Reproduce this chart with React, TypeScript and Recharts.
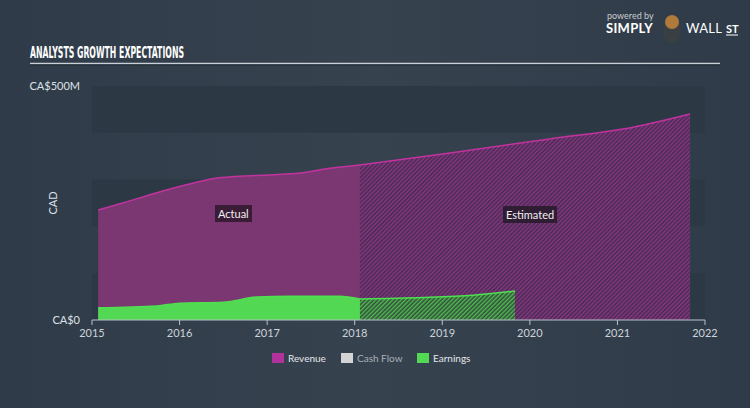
import { ComposedChart, Area, XAxis, YAxis, ReferenceArea } from 'recharts';

const revenueActualYears = [2015.07, 2015.35, 2015.74, 2016.1, 2016.38, 2016.88, 2017.38, 2017.64, 2018.06];
const revenueActual = [235, 250, 272, 290, 302, 309, 314, 322, 331];
const revenueEstYears = [2018.06, 2019.09, 2020.23, 2021.18, 2021.83];
const revenueEst = [331, 357, 387, 412, 440];
const earningsActualYears = [2015.07, 2015.74, 2016.0, 2016.5, 2016.88, 2017.26, 2017.83, 2018.06];
const earningsActual = [26, 30, 36, 38, 49, 51, 51, 45];
const earningsEstYears = [2018.06, 2018.78, 2019.35, 2019.83];
const earningsEst = [45, 48, 53, 62];

const xTicks = [2015, 2016, 2017, 2018, 2019, 2020, 2021, 2022];
const yTicks = [0, 500];
const bands = [[0, 100], [200, 300], [400, 500]];

const legendNames = ['Revenue', 'Cash Flow', 'Earnings'];
const legendStyle: Record<string, { swatch: string; text: string; width: number }> = {
  Revenue: { swatch: '#b0329a', text: '#e4e6ea', width: 69 },
  'Cash Flow': { swatch: '#d4d4d4', text: '#a9b0b8', width: 76 },
  Earnings: { swatch: '#52d852', text: '#e4e6ea', width: 60 },
};

type Row = { year: number; [k: string]: number | null };

function buildData(): Row[] {
  const map = new Map<number, Row>();
  const add = (years: number[], vals: number[], key: string) => {
    years.forEach((y, i) => {
      if (!map.has(y)) map.set(y, { year: y });
      map.get(y)![key] = vals[i];
    });
  };
  add(revenueActualYears, revenueActual, 'revA');
  add(revenueEstYears, revenueEst, 'revE');
  add(earningsActualYears, earningsActual, 'earnA');
  add(earningsEstYears, earningsEst, 'earnE');
  return [...map.values()].sort((a, b) => a.year - b.year);
}

const data = buildData();
const font = 'Lato, "Open Sans", sans-serif';

// rotated axis caption, centred on the plot's vertical middle
const CadLabel = ({ viewBox }: any) => {
  const cy = viewBox.y + viewBox.height / 2;
  return (
    <text
      x={52}
      y={cy}
      transform={`rotate(-90 52 ${cy})`}
      textAnchor="middle"
      dominantBaseline="central"
      fill="#dde1e6"
      fontSize={11}
      fontFamily={font}
    >
      CAD
    </text>
  );
};

export default function App() {
  return (
    <div
      style={{
        position: 'relative',
        width: 750,
        height: 408,
        background: 'linear-gradient(90deg, #2f3b48 0%, #36434f 50%, #2f3b48 100%)',
        fontFamily: font,
        overflow: 'hidden',
      }}
    >
      <style>{`body{margin:0}`}</style>

      {/* header */}
      <svg width={750} height={70} style={{ position: 'absolute', left: 0, top: 0 }}>
        <text
          x={30}
          y={58}
          fill="#ffffff"
          fontSize={16}
          fontWeight={700}
          fontFamily='"Liberation Sans Narrow", "DejaVu Sans Condensed", sans-serif'
          textLength={154}
          lengthAdjust="spacingAndGlyphs"
        >
          ANALYSTS GROWTH EXPECTATIONS
        </text>
        <line x1={30} x2={720} y1={63.5} y2={63.5} stroke="#c9d0d8" strokeWidth={1.5} />
        <line x1={30} x2={720} y1={65} y2={65} stroke="#1f2833" strokeWidth={1} />
        <text x={607} y={19} fill="#c8ccd0" fontSize={9}>powered by</text>
        <text x={606} y={33} fill="#ffffff" fontSize={13} fontWeight={700} letterSpacing={0.3}>SIMPLY</text>
        <ellipse cx={672} cy={31} rx={9} ry={12} fill="#3a3f44" />
        <circle cx={672} cy={22} r={7} fill="#b07a3a" />
        <text x={686} y={33} fill="#ffffff" fontSize={13} letterSpacing={0.3}>WALL</text>
        <text x={726} y={33} fill="#ffffff" fontSize={11} fontWeight={700}>ST</text>
        <line x1={726} x2={738} y1={35} y2={35} stroke="#ffffff" strokeWidth={1} />
      </svg>

      <div style={{ position: 'absolute', left: 0, top: 0 }}>
        <ComposedChart
          width={750}
          height={408}
          data={data}
          margin={{ top: 86, right: 45, bottom: 58, left: 0 }}
        >
          <defs>
            <pattern id="hatchRev" width={3} height={3} patternUnits="userSpaceOnUse" patternTransform="rotate(45)">
              <rect width={3} height={3} fill="#472c52" />
              <rect width={1.4} height={3} fill="#8a3683" />
            </pattern>
            <pattern id="hatchEarn" width={3} height={3} patternUnits="userSpaceOnUse" patternTransform="rotate(45)">
              <rect width={3} height={3} fill="#344d3e" />
              <rect width={1.4} height={3} fill="#4fbf4f" />
            </pattern>
          </defs>
          {bands.map(([a, b]) => (
            <ReferenceArea key={a} y1={a} y2={b} fill="#2c3844" fillOpacity={1} stroke="none" />
          ))}
          <XAxis
            dataKey="year"
            type="number"
            domain={[2015, 2022]}
            ticks={xTicks}
            allowDecimals={false}
            stroke="#b9c1c9"
            tickSize={5}
            tick={{ fill: '#cdd3da', fontSize: 11, fontFamily: font }}
            tickMargin={4}
          />
          <YAxis
            type="number"
            domain={[0, 500]}
            ticks={yTicks}
            width={92}
            axisLine={false}
            tickLine={false}
            tickMargin={6}
            tickFormatter={(v: number) => (v === 0 ? 'CA$0' : `CA$${v}M`)}
            tick={{ fill: '#dde1e6', fontSize: 11, fontFamily: font }}
            label={<CadLabel />}
          />
          <Area
            dataKey="revA"
            type="monotone"
            connectNulls
            stroke="#c2339f"
            strokeWidth={1.5}
            fill="#7a3772"
            fillOpacity={1}
            isAnimationActive={false}
            dot={false}
            activeDot={false}
          />
          <Area
            dataKey="revE"
            type="monotone"
            connectNulls
            stroke="#c2339f"
            strokeWidth={1.5}
            fill="url(#hatchRev)"
            fillOpacity={1}
            isAnimationActive={false}
            dot={false}
            activeDot={false}
          />
          <Area
            dataKey="earnA"
            type="monotone"
            connectNulls
            stroke="#4fe04f"
            strokeWidth={1.5}
            fill="#52d852"
            fillOpacity={1}
            isAnimationActive={false}
            dot={false}
            activeDot={false}
          />
          <Area
            dataKey="earnE"
            type="monotone"
            connectNulls
            stroke="#4fe04f"
            strokeWidth={1.5}
            fill="url(#hatchEarn)"
            fillOpacity={1}
            isAnimationActive={false}
            dot={false}
            activeDot={false}
          />
        </ComposedChart>
      </div>

      {/* period labels */}
      <div
        style={{
          position: 'absolute', left: 215, top: 205, height: 17, padding: '0 3px',
          background: '#3b1c37', color: '#f0f0f0', fontSize: 11, lineHeight: '17px',
        }}
      >
        Actual
      </div>
      <div
        style={{
          position: 'absolute', left: 503, top: 206, height: 17, padding: '0 3px',
          background: '#2f1d33', color: '#f0f0f0', fontSize: 11, lineHeight: '17px',
        }}
      >
        Estimated
      </div>

      {/* legend */}
      <div style={{ position: 'absolute', left: 272, top: 352, display: 'flex', fontSize: 10 }}>
        {legendNames.map((name) => {
          const s = legendStyle[name];
          return (
            <div key={name} style={{ display: 'flex', alignItems: 'center', width: s.width }}>
              <span style={{ width: 12, height: 10, background: s.swatch, display: 'inline-block', marginRight: 4 }} />
              <span style={{ color: s.text }}>{name}</span>
            </div>
          );
        })}
      </div>
    </div>
  );
}
